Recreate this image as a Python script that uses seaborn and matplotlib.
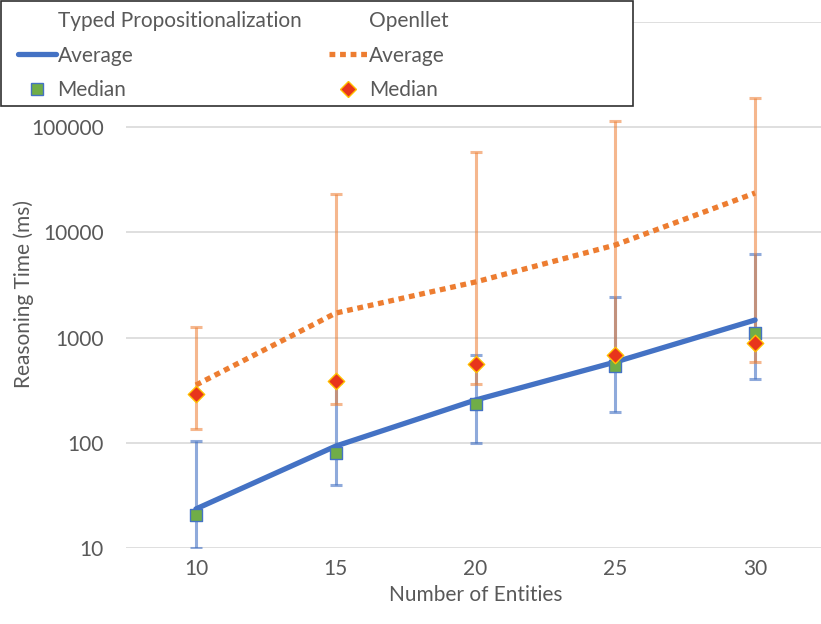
import numpy as np
import pandas as pd
import matplotlib
matplotlib.use("Agg")
import matplotlib.pyplot as plt
import seaborn as sns
from matplotlib.lines import Line2D
from matplotlib.patches import Rectangle

# datos
entities = [10, 15, 20, 25, 30]

typed_avg = [23.5, 93, 255, 586, 1470]
typed_median = [20.6, 80, 234, 537, 1107]
typed_min = [10, 40, 100, 196, 404]
typed_max = [104, 370, 684, 2430, 6240]

openllet_avg = [354, 1710, 3380, 7590, 23700]
openllet_median = [291, 387, 561, 684, 889]
openllet_min = [135, 234, 362, 640, 586]
openllet_max = [1260, 23200, 58000, 114600, 190000]

y_ticks = [10, 100, 1000, 10000, 100000, 1000000]
# la etiqueta de 1000000 queda tapada por la leyenda en el original
y_ticklabels = ['10', '100', '1000', '10000', '100000', '']

blue = '#4472C4'
orange = '#ED7D31'
gray = '#595959'

sns.set_style('white')
plt.rcParams['font.family'] = ['Lato', 'DejaVu Sans']

df = pd.DataFrame({'entities': entities,
                   'typed_avg': typed_avg, 'typed_median': typed_median,
                   'openllet_avg': openllet_avg, 'openllet_median': openllet_median})

fig = plt.figure(figsize=(8.21, 6.24), dpi=100)
ax = fig.add_axes([126 / 821, 76 / 624, 699 / 821, 526 / 624])

# barras de error (min / max)
x = np.array(entities)
t_avg = np.array(typed_avg)
o_avg = np.array(openllet_avg)
ax.errorbar(x, t_avg, yerr=[t_avg - np.array(typed_min), np.array(typed_max) - t_avg],
            fmt='none', ecolor=blue, alpha=0.6, elinewidth=2.2, capsize=4, capthick=2.2, zorder=2)
ax.errorbar(x, o_avg, yerr=[o_avg - np.array(openllet_min), np.array(openllet_max) - o_avg],
            fmt='none', ecolor=orange, alpha=0.55, elinewidth=2.2, capsize=4, capthick=2.2, zorder=2)

# medias
sns.lineplot(data=df, x='entities', y='typed_avg', color=blue, linewidth=3.8, ax=ax, zorder=3)
sns.lineplot(data=df, x='entities', y='openllet_avg', color=orange, linewidth=3.8, ax=ax, zorder=3)
ax.lines[-1].set_dashes((1.1, 0.9))
ax.lines[-1].set_dash_capstyle('butt')

# medianas
sns.scatterplot(data=df, x='entities', y='typed_median', marker='s', s=85, color='#70AD47',
                edgecolor=blue, linewidth=1, ax=ax, zorder=4)
sns.scatterplot(data=df, x='entities', y='openllet_median', marker='D', s=70, color='#E8341C',
                edgecolor='#FFC000', linewidth=1, ax=ax, zorder=5)

ax.set_yscale('log')
ax.set_ylim(10, 1000000)
ax.set_xlim(7.5, 32.5)
ax.set_xticks(entities)
ax.set_xticklabels([str(e) for e in entities])
ax.set_yticks(y_ticks)
ax.set_yticklabels(y_ticklabels)
ax.yaxis.set_minor_locator(matplotlib.ticker.NullLocator())
ax.grid(axis='y', color='#D9D9D9', linewidth=1.2)
ax.set_axisbelow(True)
for s in ax.spines.values():
    s.set_visible(False)
ax.tick_params(axis='both', length=0, labelsize=15, labelcolor=gray)
ax.tick_params(axis='y', pad=16)
ax.tick_params(axis='x', pad=8)
ax.set_xlabel('Number of Entities', fontsize=15, color=gray, labelpad=4)
ax.set_ylabel('Reasoning Time (ms)', fontsize=15, color=gray)
ax.yaxis.set_label_coords(-0.147, 0.482)
ax.yaxis.label.set_verticalalignment('center')

# recuadro de la leyenda
fig.add_artist(Rectangle((0.6 / 821, 1 - 106 / 624), 632 / 821, 105.4 / 624, transform=fig.transFigure,
                         facecolor='white', edgecolor='#303030', linewidth=1.2, zorder=9))

# leyenda en dos columnas con cabeceras
empty = Line2D([], [], linestyle='none')
h_tavg = Line2D([], [], color=blue, linewidth=3.8)
h_tmed = Line2D([], [], linestyle='none', marker='s', markersize=8, markerfacecolor='#70AD47',
                markeredgecolor=blue)
h_oavg = Line2D([], [], color=orange, linewidth=3.8, dashes=(1.1, 0.9), dash_capstyle='butt')
h_omed = Line2D([], [], linestyle='none', marker='D', markersize=8, markerfacecolor='#E8341C',
                markeredgecolor='#FFC000')
handles = [empty, h_tavg, h_tmed, empty, h_oavg, h_omed]
labels = ['Typed Propositionalization', 'Average', 'Median', 'Openllet', 'Average', 'Median']
leg = fig.legend(handles, labels, ncol=2, loc='upper left',
                 bbox_to_anchor=(18 / 821, 1 - 11 / 624), bbox_transform=fig.transFigure,
                 frameon=False, fontsize=15, labelcolor=gray, handlelength=1.8, handletextpad=0.1,
                 columnspacing=1.35, labelspacing=0.7, borderpad=0, borderaxespad=0)
leg.set_zorder(10)

plt.savefig('out.png', dpi=100)
